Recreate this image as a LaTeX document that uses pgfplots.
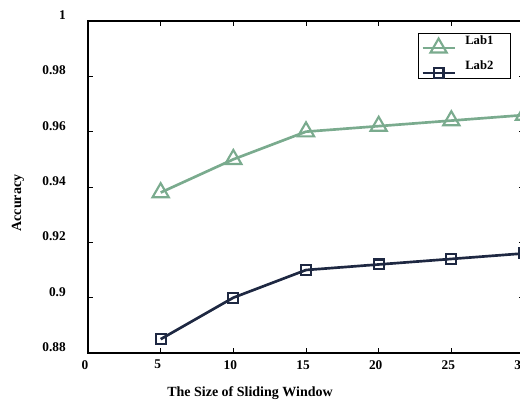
\documentclass[border=0pt]{standalone}
\usepackage{pgfplots}
\pgfplotsset{compat=1.18}
\usepackage{fontspec}
\setmainfont{Liberation Serif}
\definecolor{labgreen}{RGB}{122,171,142}
\definecolor{labnavy}{RGB}{30,40,66}
\newlength\pxu \setlength\pxu{0.75pt}
\begin{document}
\begin{tikzpicture}
\path[use as bounding box] (-88\pxu,-50\pxu) rectangle (432\pxu,353\pxu);
\clip (-88\pxu,-50\pxu) rectangle (432\pxu,353\pxu);
\begin{axis}[
  at={(0,0)}, anchor=origin,
  scale only axis,
  width=436\pxu, height=332\pxu,
  xmin=0, xmax=30, ymin=0.88, ymax=1,
  xtick={0,5,...,30},
  ytick={0.88,0.9,0.92,0.94,0.96,0.98,1},
  yticklabels={0.88,0.9,0.92,0.94,0.96,0.98,1},
  tick align=inside,
  major tick length=5\pxu,
  axis line style={line width=0.8pt},
  tick style={line width=0.6pt, black},
  /pgf/number format/assume math mode=true,
  ticklabel style={font=\fontsize{10}{12}\selectfont\bfseries},
  xticklabel style={anchor=north, inner sep=0pt, yshift=-7\pxu, xshift=-3\pxu},
  yticklabel style={anchor=east, inner sep=0pt, xshift=-22\pxu, yshift=6\pxu},
  legend style={at={(0.9702,0.964)}, anchor=north east, draw=black, line width=0.6pt,
    font=\fontsize{9.5}{11}\selectfont\bfseries, inner xsep=2pt, inner ysep=0.6pt,
    row sep=5pt, cells={anchor=west}, nodes={inner ysep=1pt}},
  legend image code/.code={\path[draw=none] (0,0) -- (40\pxu,0);
    \draw[mark repeat=2,mark phase=2,#1] plot coordinates {(0,-7\pxu) (16\pxu,-7\pxu) (32\pxu,-7\pxu)};},
]
\addplot[color=labgreen, line width=2pt, mark=triangle, mark size=7pt, mark options={line width=1.6pt, fill=none}]
  coordinates {(5,0.938) (10,0.950) (15,0.960) (20,0.962) (25,0.964) (30,0.966)};
\addlegendentry{\makebox[30pt][l]{Lab1}}
\addplot[color=labnavy, line width=2pt, mark=square, mark size=3.7pt, mark options={line width=1.6pt, fill=none}]
  coordinates {(5,0.885) (10,0.900) (15,0.910) (20,0.912) (25,0.914) (30,0.916)};
\addlegendentry{\makebox[30pt][l]{Lab2}}
\end{axis}
\node[rotate=90, font=\fontsize{10.5}{12}\selectfont\bfseries] at (-70\pxu,150\pxu) {Accuracy};
\node[font=\fontsize{10.5}{12}\selectfont\bfseries] at (162\pxu,-40\pxu) {The Size of Sliding Window};
\end{tikzpicture}
\end{document}
